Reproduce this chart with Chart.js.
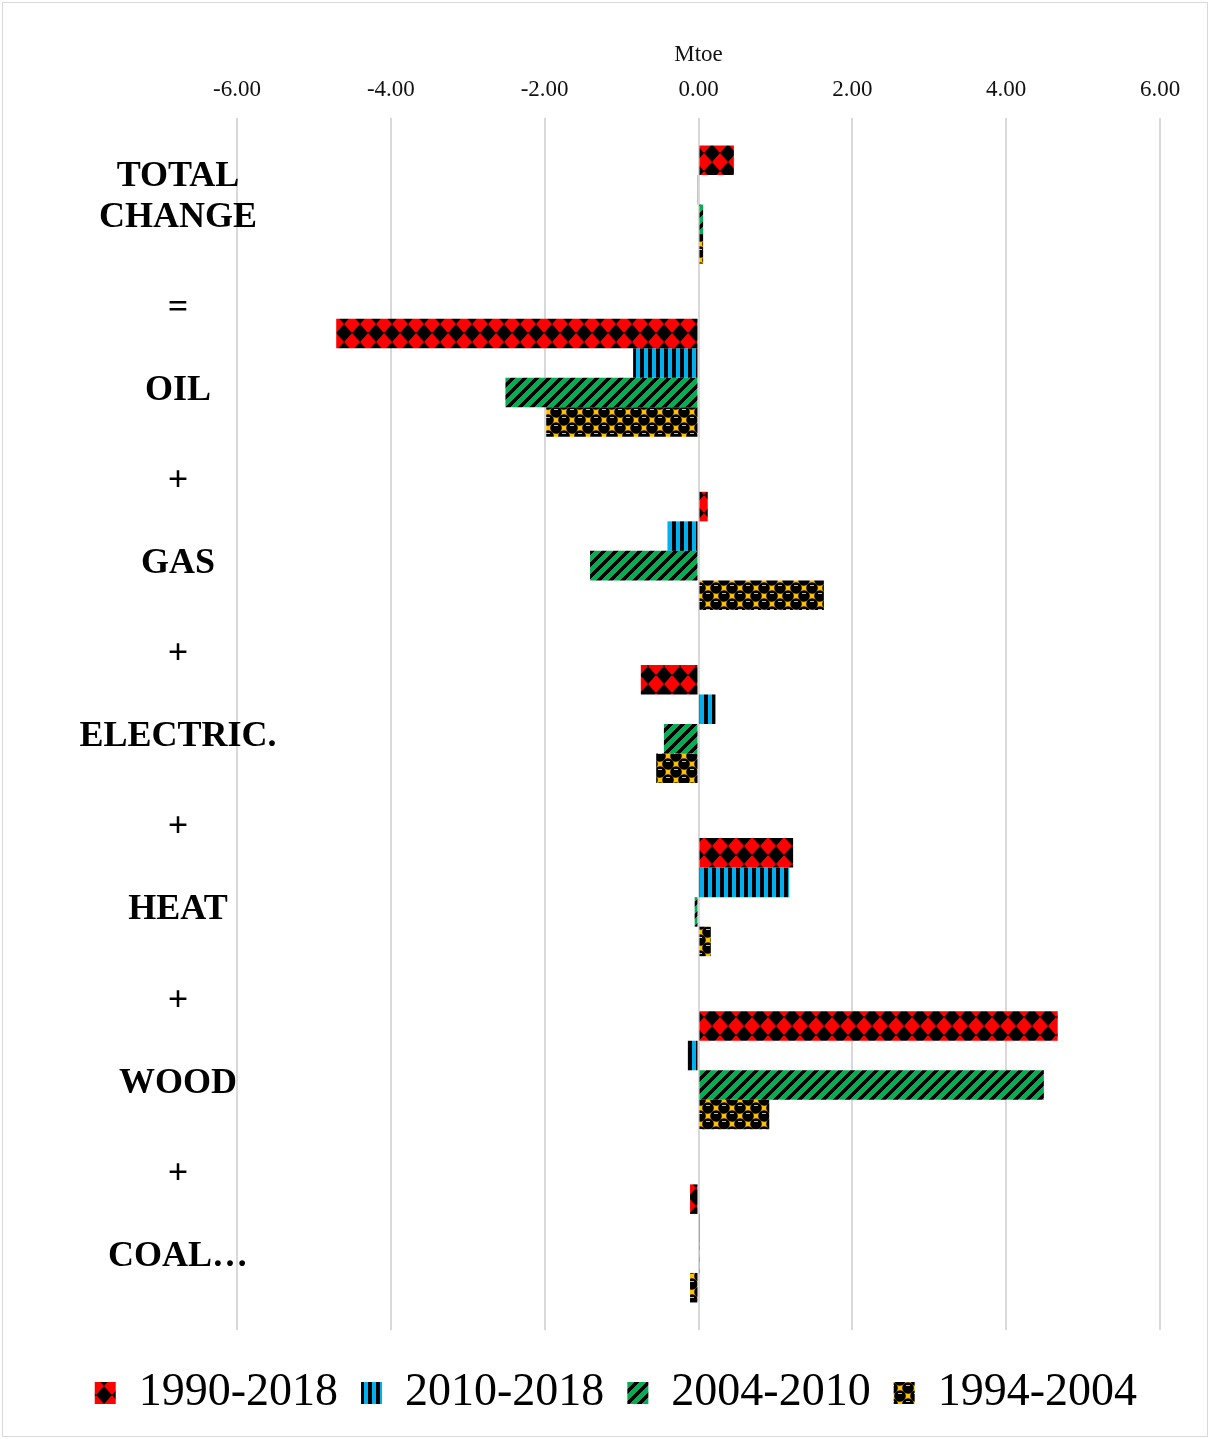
<!DOCTYPE html>
<html>
<head>
<meta charset="utf-8">
<script src="https://cdn.jsdelivr.net/npm/chart.js@4.4.1/dist/chart.umd.min.js"></script>
<style>
  html, body { margin: 0; padding: 0; background: #ffffff; }
  #wrap { position: relative; width: 1210px; height: 1439px; }
  #wrap canvas { position: absolute; left: 0; top: 0; }
  #frame { position: absolute; left: 2px; top: 2px; right: 2px; bottom: 2px; border: 1px solid #d9d9d9; pointer-events: none; }
</style>
</head>
<body>
<div id="wrap">
  <canvas id="chart" width="1210" height="1439"></canvas>
  <div id="frame"></div>
</div>
<script>
// Decomposition of the change in final energy consumption by carrier (Mtoe)
const categories = [
  ["TOTAL", "CHANGE"],
  ["=", "", "OIL", ""],
  ["+", "", "GAS", ""],
  ["+", "", "ELECTRIC.", ""],
  ["+", "", "HEAT", ""],
  ["+", "", "WOOD", ""],
  ["+", "", "COAL\u2026", ""]
];

const seriesNames = ["1990-2018", "2010-2018", "2004-2010", "1994-2004"];

const change1990to2018 = [0.46, -4.71, 0.12, -0.75, 1.23, 4.67, -0.11];
const change2010to2018 = [-0.01, -0.85, -0.40, 0.22, 1.18, -0.14, 0.01];
const change2004to2010 = [0.06, -2.51, -1.41, -0.45, -0.05, 4.49, 0.01];
const change1994to2004 = [0.06, -1.98, 1.63, -0.55, 0.16, 0.92, -0.11];

const xTicks = [-6, -4, -2, 0, 2, 4, 6];
const axisTitle = "Mtoe";

const SERIF = '"Liberation Serif", "Times New Roman", serif';

// ---- hatch fills ----------------------------------------------------------
function tile(w, h, paint) {
  const c = document.createElement("canvas");
  c.width = w; c.height = h;
  const g = c.getContext("2d");
  paint(g, w, h);
  return g.createPattern(c, "repeat");
}

// red with black diamond checker
const diamondFill = tile(16, 18, (g, w, h) => {
  g.fillStyle = "#ff0000"; g.fillRect(0, 0, w, h);
  g.fillStyle = "#000000";
  g.beginPath();
  g.moveTo(w / 2, 0); g.lineTo(w, h / 2); g.lineTo(w / 2, h); g.lineTo(0, h / 2);
  g.closePath(); g.fill();
});

// blue with black vertical stripes
const stripeFill = tile(8, 8, (g, w, h) => {
  g.fillStyle = "#00b0f0"; g.fillRect(0, 0, w, h);
  g.fillStyle = "#000000"; g.fillRect(0, 0, 4, h);
});

// green with black upward diagonals
const diagonalFill = tile(12, 12, (g, w, h) => {
  for (let y = 0; y < h; y++) {
    for (let x = 0; x < w; x++) {
      g.fillStyle = ((x + y) % 12) < 5 ? "#000000" : "#00b050";
      g.fillRect(x, y, 1, 1);
    }
  }
});

// gold with black sphere checker
const sphereFill = tile(16, 16, (g, w, h) => {
  g.fillStyle = "#ffc000"; g.fillRect(0, 0, w, h);
  g.fillStyle = "#000000";
  for (let i = -1; i <= 1; i++) {
    for (let j = -1; j <= 1; j++) {
      [[4, 4], [12, 12]].forEach(([cx, cy]) => {
        g.beginPath();
        g.arc(cx + i * w, cy + j * h, 5.8, 0, Math.PI * 2);
        g.fill();
      });
    }
  }
  g.fillStyle = "#ffc000";
  g.fillRect(2, 1, 4, 1);
  g.fillRect(10, 9, 4, 1);
});

const fills = [diamondFill, stripeFill, diagonalFill, sphereFill];
const seriesValues = [change1990to2018, change2010to2018, change2004to2010, change1994to2004];

const datasets = seriesNames.map((name, i) => ({
  label: name,
  data: seriesValues[i],
  backgroundColor: fills[i],
  borderWidth: 0,
  categoryPercentage: 0.682,
  barPercentage: 1.0
}));

new Chart(document.getElementById("chart"), {
  type: "bar",
  data: { labels: categories, datasets },
  options: {
    indexAxis: "y",
    responsive: false,
    animation: false,
    devicePixelRatio: 1,
    layout: { padding: { left: 0, right: 50, top: 0, bottom: 13 } },
    plugins: {
      tooltip: { enabled: false },
      legend: {
        position: "bottom",
        align: "end",
        title: { display: true, text: "", padding: 0, font: { size: 17, lineHeight: 1 } },
        labels: {
          font: { family: SERIF, size: 46 },
          color: "#000000",
          boxWidth: 21,
          boxHeight: 22,
          padding: 23
        }
      }
    },
    scales: {
      x: {
        position: "top",
        min: -6,
        max: 6,
        afterBuildTicks: (scale) => { scale.ticks = xTicks.map(v => ({ value: v })); },
        afterFit: (scale) => { scale.height = 118; },
        grid: { color: "#d9d9d9", lineWidth: 2, drawTicks: false },
        border: { display: false },
        ticks: {
          font: { family: SERIF, size: 23 },
          color: "#111111",
          padding: 14,
          autoSkip: false,
          maxRotation: 0,
          callback: (v) => Number(v).toFixed(2)
        },
        title: {
          display: true,
          text: axisTitle,
          font: { family: SERIF, size: 23 },
          color: "#111111",
          padding: { top: 41, bottom: 0 }
        }
      },
      y: {
        afterFit: (scale) => { scale.width = 237; },
        grid: { display: false, drawTicks: false },
        border: { display: false },
        ticks: {
          font: { family: SERIF, size: 36, weight: "bold", lineHeight: 41 / 36 },
          color: "#000000",
          mirror: true,
          crossAlign: "center",
          padding: -157.5,
          labelOffset: -7.5,
          autoSkip: false
        }
      }
    }
  }
});
</script>
</body>
</html>
